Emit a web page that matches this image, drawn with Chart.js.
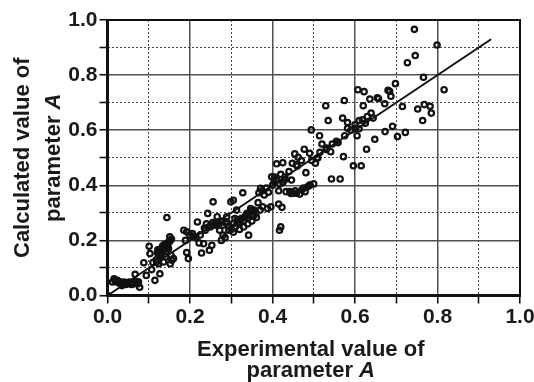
<!DOCTYPE html>
<html>
<head>
<meta charset="utf-8">
<script src="https://cdn.jsdelivr.net/npm/chart.js@4/dist/chart.umd.min.js"></script>
<style>
  html, body { margin: 0; padding: 0; background: #fff; }
  #c { display: block; }
</style>
</head>
<body>
<canvas id="c" width="534" height="382"></canvas>
<script>
// experimental (x) vs calculated (y) values of parameter A
const expX = [
  0, 0.012, 0.016, 0.02, 0.024, 0.028, 0.032, 0.035, 0.04, 0.045, 0.046, 0.053, 0.058, 0.061, 0.065, 0.067, 0.069, 0.074, 0.075, 0.078,
  0.018, 0.026, 0.038, 0.05, 0.056, 0.063, 0.071,
  0.088, 0.094, 0.101, 0.103, 0.107, 0.11, 0.115, 0.118, 0.119, 0.122, 0.124, 0.125, 0.127, 0.127, 0.129, 0.13, 0.131, 0.133, 0.136, 0.136,
  0.138, 0.14, 0.141, 0.142, 0.144, 0.144, 0.145, 0.148, 0.15, 0.151, 0.152, 0.152, 0.154, 0.155, 0.156, 0.16,
  0.128, 0.134, 0.139, 0.146, 0.121,
  0.185, 0.189, 0.192, 0.192, 0.196, 0.2, 0.206, 0.21, 0.214, 0.218, 0.222, 0.225, 0.228, 0.233, 0.235, 0.237, 0.24, 0.243, 0.246, 0.247,
  0.25, 0.253, 0.255, 0.256, 0.26, 0.262, 0.266, 0.268, 0.27, 0.272, 0.275, 0.276, 0.28, 0.28, 0.285, 0.285, 0.289, 0.29, 0.294, 0.295,
  0.299, 0.3, 0.305, 0.305, 0.305, 0.309, 0.31, 0.313, 0.315, 0.318, 0.32, 0.32, 0.322, 0.325, 0.328, 0.33, 0.33, 0.334, 0.335, 0.338,
  0.34, 0.34, 0.342, 0.345, 0.347, 0.35, 0.35, 0.351, 0.355, 0.355, 0.36, 0.361, 0.365, 0.367, 0.37, 0.371, 0.375, 0.376, 0.38, 0.385,
  0.388, 0.39, 0.396, 0.398, 0.4, 0.404, 0.405, 0.41, 0.41, 0.415, 0.415, 0.417, 0.418, 0.42, 0.42, 0.423, 0.425, 0.425, 0.429, 0.43,
  0.433, 0.44, 0.442, 0.445, 0.446, 0.448, 0.45, 0.454, 0.455, 0.458, 0.458, 0.46, 0.462, 0.466, 0.47, 0.471, 0.475, 0.477, 0.479, 0.481,
  0.485, 0.49, 0.49, 0.491, 0.494, 0.495, 0.5, 0.504, 0.508, 0.51, 0.514, 0.515, 0.52, 0.529, 0.53, 0.531, 0.535, 0.541, 0.543, 0.545,
  0.555, 0.559, 0.564, 0.57, 0.572, 0.574, 0.575, 0.582, 0.582, 0.59, 0.596, 0.6, 0.601, 0.605, 0.607, 0.61, 0.61, 0.615, 0.618, 0.62,
  0.622, 0.625, 0.628, 0.63, 0.636, 0.639, 0.644, 0.648, 0.654, 0.657, 0.672, 0.673, 0.68, 0.684, 0.687, 0.691, 0.698, 0.703, 0.715, 0.722,
  0.727, 0.744, 0.746, 0.752, 0.764, 0.766, 0.768, 0.782, 0.785, 0.799, 0.816
]
const calcY = [
  0, 0.049, 0.061, 0.05, 0.055, 0.045, 0.049, 0.036, 0.049, 0.04, 0.045, 0.049, 0.04, 0.045, 0.05, 0.077, 0.049, 0.043, 0.05, 0.03,
  0.056, 0.05, 0.044, 0.047, 0.046, 0.042, 0.047,
  0.119, 0.073, 0.179, 0.152, 0.094, 0.12, 0.055, 0.13, 0.122, 0.166, 0.115, 0.16, 0.079, 0.137, 0.152, 0.145, 0.17, 0.175, 0.164, 0.122,
  0.185, 0.176, 0.14, 0.16, 0.283, 0.182, 0.19, 0.17, 0.195, 0.213, 0.2, 0.115, 0.146, 0.205, 0.128, 0.134,
  0.168, 0.18, 0.172, 0.178, 0.155,
  0.237, 0.2, 0.231, 0.156, 0.134, 0.219, 0.225, 0.215, 0.21, 0.267, 0.191, 0.22, 0.154, 0.188, 0.245, 0.237, 0.26, 0.298, 0.249, 0.164,
  0.25, 0.182, 0.265, 0.34, 0.261, 0.255, 0.286, 0.255, 0.26, 0.237, 0.27, 0.2, 0.219, 0.255, 0.264, 0.21, 0.286, 0.265, 0.237, 0.25,
  0.34, 0.24, 0.346, 0.26, 0.23, 0.279, 0.25, 0.31, 0.275, 0.267, 0.26, 0.24, 0.273, 0.28, 0.373, 0.249, 0.27, 0.286, 0.29, 0.298,
  0.28, 0.26, 0.219, 0.3, 0.316, 0.31, 0.27, 0.288, 0.31, 0.29, 0.3, 0.283, 0.337, 0.373, 0.31, 0.389, 0.38, 0.322, 0.365, 0.39,
  0.316, 0.375, 0.322, 0.431, 0.4, 0.413, 0.43, 0.478, 0.42, 0.332, 0.38, 0.237, 0.405, 0.249, 0.44, 0.32, 0.482, 0.41, 0.419, 0.43,
  0.377, 0.45, 0.377, 0.37, 0.419, 0.48, 0.371, 0.514, 0.38, 0.474, 0.371, 0.47, 0.502, 0.368, 0.49, 0.383, 0.39, 0.531, 0.377, 0.446,
  0.395, 0.516, 0.4, 0.401, 0.601, 0.49, 0.405, 0.48, 0.498, 0.5, 0.58, 0.52, 0.55, 0.689, 0.53, 0.535, 0.635, 0.522, 0.423, 0.55,
  0.56, 0.555, 0.423, 0.644, 0.504, 0.708, 0.58, 0.628, 0.607, 0.6, 0.471, 0.62, 0.607, 0.58, 0.747, 0.635, 0.605, 0.471, 0.638, 0.689,
  0.74, 0.625, 0.531, 0.65, 0.713, 0.662, 0.644, 0.567, 0.718, 0.715, 0.696, 0.595, 0.745, 0.741, 0.723, 0.614, 0.769, 0.577, 0.686, 0.592,
  0.845, 0.966, 0.871, 0.677, 0.635, 0.792, 0.693, 0.687, 0.662, 0.909, 0.747
]
// 1:1 line
const fitX = [0, 0.93]
const fitY = [0, 0.93]

const tickValues = [0, 0.2, 0.4, 0.6, 0.8, 1.0]
const tickLabels = ['0.0', '0.2', '0.4', '0.6', '0.8', '1.0']

const FONT = '"Liberation Sans", Arial, sans-serif'

function isMajor(v){
  return Math.round(v * 10) % 2 === 0
}
function tickText(v){
  const i = tickValues.findIndex(t => Math.abs(t - v) < 1e-6)
  return i >= 0 ? tickLabels[i] : ''
}

// grid: solid at 0.2 steps, dotted at the 0.1 steps between
function axisOpts(extra, pad){
  return Object.assign({
    type: 'linear',
    min: 0,
    max: 1,
    ticks: {
      stepSize: 0.1,
      autoSkip: false,
      maxRotation: 0,
      padding: pad,
      color: '#1a1a1a',
      font: { family: FONT, size: 21, weight: 'bold' },
      callback: v => tickText(v)
    },
    grid: {
      color: c => isMajor(c.tick.value) ? '#505050' : '#444',
      lineWidth: c => isMajor(c.tick.value) ? 1.5 : 1,
      tickColor: '#111',
      tickLength: 8,
      tickWidth: 1.6
    },
    border: {
      display: false,
      dash: c => (c.tick && !isMajor(c.tick.value)) ? [2, 2] : []
    }
  }, extra)
}

// frame around plot area
const framePlugin = {
  id: 'frame',
  beforeDatasetsDraw(chart){
    const a = chart.chartArea
    const ctx = chart.ctx
    ctx.save()
    ctx.strokeStyle = '#111'
    ctx.lineWidth = 2
    ctx.beginPath()
    ctx.moveTo(a.left, a.top)
    ctx.lineTo(a.right, a.top)
    ctx.lineTo(a.right, a.bottom)
    ctx.stroke()
    ctx.lineWidth = 3
    ctx.beginPath()
    ctx.moveTo(a.left, a.top - 1)
    ctx.lineTo(a.left, a.bottom)
    ctx.lineTo(a.right + 1, a.bottom)
    ctx.stroke()
    ctx.restore()
  }
}

// axis titles (italic A)
function drawTitleLine(ctx, x, y, plain, ital){
  ctx.font = 'bold 22px ' + FONT
  const w1 = ctx.measureText(plain).width
  let w2 = 0
  if(ital){
    ctx.font = 'italic bold 22px ' + FONT
    w2 = ctx.measureText(ital).width
  }
  const start = x - (w1 + w2) / 2
  ctx.textAlign = 'left'
  ctx.textBaseline = 'middle'
  ctx.font = 'bold 22px ' + FONT
  ctx.fillText(plain, start, y)
  if(ital){
    ctx.font = 'italic bold 22px ' + FONT
    ctx.fillText(ital, start + w1, y)
  }
}

const titlePlugin = {
  id: 'titles',
  afterDraw(chart){
    const a = chart.chartArea
    const ctx = chart.ctx
    ctx.save()
    ctx.fillStyle = '#1a1a1a'
    const cx = (a.left + a.right) / 2
    drawTitleLine(ctx, cx - 3, a.bottom + 54, 'Experimental value of', '')
    drawTitleLine(ctx, cx - 3, a.bottom + 75, 'parameter ', 'A')
    const cy = (a.top + a.bottom) / 2
    ctx.translate(0, cy)
    ctx.rotate(-Math.PI / 2)
    drawTitleLine(ctx, 0, 23, 'Calculated value of', '')
    drawTitleLine(ctx, 0, 54, 'parameter ', 'A')
    ctx.restore()
  }
}

new Chart(document.getElementById('c'), {
  type: 'scatter',
  data: {
    datasets: [
      {
        label: 'points',
        data: expX.map((x, i) => ({ x: x, y: calcY[i] })),
        pointStyle: 'circle',
        pointRadius: 2.7,
        pointBorderWidth: 2.2,
        pointBorderColor: '#111',
        pointBackgroundColor: 'rgba(255,255,255,0)'
      },
      {
        type: 'line',
        label: 'fit',
        data: fitX.map((x, i) => ({ x: x, y: fitY[i] })),
        borderColor: '#111',
        borderWidth: 2,
        pointRadius: 0,
        fill: false
      }
    ]
  },
  options: {
    responsive: false,
    animation: false,
    devicePixelRatio: 1,
    layout: { padding: { top: 20, right: 14, left: 0, bottom: 0 } },
    plugins: { legend: { display: false }, tooltip: { enabled: false } },
    scales: {
      x: axisOpts({
        afterFit: s => { s.height = 86.5; s.paddingLeft = 0; s.paddingRight = 0 }
      }, 1),
      y: axisOpts({
        afterFit: s => { s.width = 107.5; s.paddingTop = 0; s.paddingBottom = 0 }
      }, 2)
    }
  },
  plugins: [framePlugin, titlePlugin]
})
</script>
</body>
</html>
